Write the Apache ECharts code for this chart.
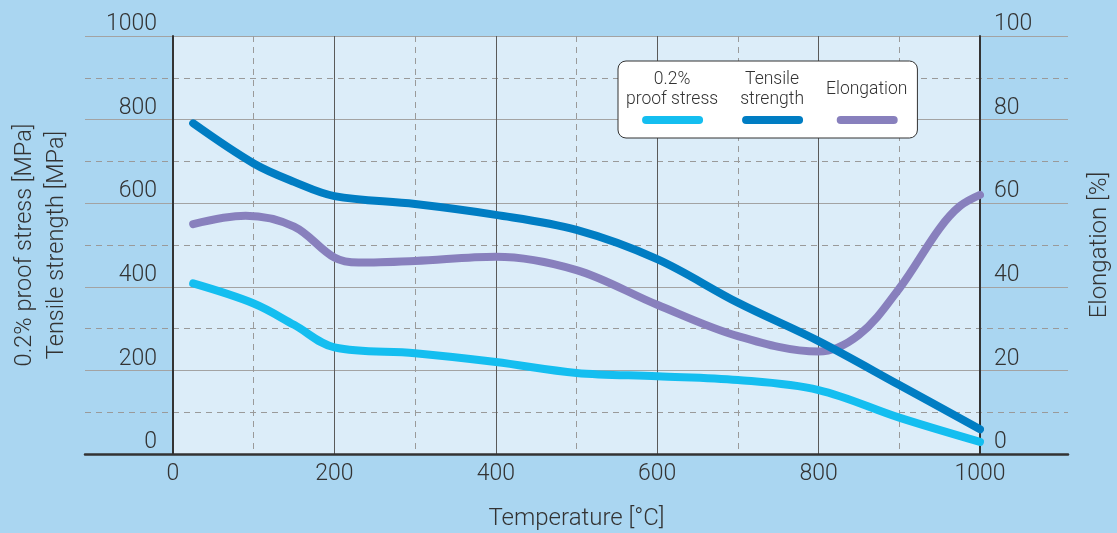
<!DOCTYPE html>
<html>
<head>
<meta charset="utf-8">
<script src="https://cdn.jsdelivr.net/npm/echarts@6/dist/echarts.min.js"></script>
<style>
html,body{margin:0;padding:0;background:#aad6f1;}
#chart{width:1117px;height:533px;}
</style>
</head>
<body>
<div id="chart"></div>
<script>
// ---- data ----
const seriesNames = ['0.2% proof stress', 'Tensile strength', 'Elongation'];
const legendLines = [['0.2%', 'proof stress'], ['Tensile', 'strength'], ['Elongation']];

const proofTemps = [25, 100, 150, 200, 300, 400, 500, 600, 700, 800, 900, 1000];
const proofStress = [408, 360, 309, 255, 241, 220, 194, 186, 177, 153, 87, 29];

const tensileTemps = [25, 100, 150, 200, 300, 400, 500, 600, 700, 800, 900, 1000];
const tensileStrength = [791, 695, 651, 617, 598, 572, 536, 466, 362, 270, 165, 59];

const elongTemps = [25, 90, 150, 200, 230, 300, 400, 500, 600, 700, 800, 850, 900, 950, 975, 1000];
const elongation = [55, 57, 54.4, 47, 45.8, 46.2, 47.2, 44, 35.7, 28.2, 24.5, 28.5, 39.6, 54, 59.3, 62];

const xTicks = [0, 200, 400, 600, 800, 1000];
const leftTicks = [0, 200, 400, 600, 800, 1000];
const rightTicks = [0, 20, 40, 60, 80, 100];

const colors = ['#14bef0', '#007dc3', '#8880bd'];

// ---- helpers ----
const pairs = (xs, ys) => xs.map((x, i) => [x, ys[i]]);
const FONT = 'Roboto';
const TXT = '#333333';
const plain = v => String(v);

const chart = echarts.init(document.getElementById('chart'));
const option = {
  backgroundColor: '#aad6f1',
  animation: false,
  textStyle: { fontFamily: FONT },
  grid: [
    { left: 85, right: 49, top: 36, bottom: 79, show: false, containLabel: false, outerBoundsMode: 'none' },
    { left: 173, right: 137, top: 36, bottom: 79, show: true, backgroundColor: '#dcedf9', borderWidth: 0, containLabel: false, outerBoundsMode: 'none' }
  ],
  xAxis: [
    {
      gridIndex: 0, type: 'value', min: 0, max: 1,
      axisLine: { show: true, lineStyle: { color: '#333', width: 2.5 } },
      axisTick: { show: false }, axisLabel: { show: false }, splitLine: { show: false }
    },
    {
      gridIndex: 1, type: 'value',
      min: xTicks[0], max: xTicks[xTicks.length - 1], interval: xTicks[1] - xTicks[0],
      name: 'Temperature [°C]', nameLocation: 'middle', nameGap: 53,
      nameTextStyle: { fontSize: 24, color: TXT, fontFamily: FONT, fontWeight: 300 },
      axisLine: { show: false }, axisTick: { show: false },
      axisLabel: { color: TXT, fontSize: 23, margin: 9, fontFamily: FONT, fontWeight: 300, formatter: plain },
      splitLine: { show: true, lineStyle: { color: '#5a5a5a', width: 1 } },
      minorTick: { show: false, splitNumber: 2 },
      minorSplitLine: { show: true, lineStyle: { color: '#9a9a9a', width: 1, type: [6, 5] } }
    }
  ],
  yAxis: [
    {
      gridIndex: 0, type: 'value', min: 0, max: 1000, interval: 200,
      axisLine: { show: false }, axisTick: { show: false }, axisLabel: { show: false },
      splitLine: { show: true, lineStyle: { color: '#a3a3a3', width: 1 } },
      minorTick: { show: false, splitNumber: 2 },
      minorSplitLine: { show: true, lineStyle: { color: '#9a9a9a', width: 1, type: [6, 5] } }
    },
    {
      gridIndex: 1, type: 'value', position: 'left',
      min: leftTicks[0], max: leftTicks[leftTicks.length - 1], interval: leftTicks[1] - leftTicks[0],
      name: '0.2% proof stress [MPa]\nTensile strength [MPa]',
      nameLocation: 'middle', nameGap: 100, nameRotate: 90,
      nameTextStyle: { fontSize: 23.5, lineHeight: 32, color: TXT, fontFamily: FONT, fontWeight: 300, align: 'center' },
      axisLine: { show: true, lineStyle: { color: '#333', width: 2 } },
      axisTick: { show: false },
      axisLabel: { color: TXT, fontSize: 23, margin: 16, verticalAlign: 'bottom', fontFamily: FONT, fontWeight: 300, formatter: plain },
      splitLine: { show: false }
    },
    {
      gridIndex: 1, type: 'value', position: 'right',
      min: rightTicks[0], max: rightTicks[rightTicks.length - 1], interval: rightTicks[1] - rightTicks[0],
      name: 'Elongation [%]', nameLocation: 'middle', nameGap: 108, nameRotate: 90,
      nameTextStyle: { fontSize: 24, color: TXT, fontFamily: FONT, fontWeight: 300 },
      axisLine: { show: true, lineStyle: { color: '#333', width: 2 } },
      axisTick: { show: false },
      axisLabel: { color: TXT, fontSize: 23, margin: 14, verticalAlign: 'bottom', fontFamily: FONT, fontWeight: 300, formatter: plain },
      splitLine: { show: false }
    }
  ],
  legend: {
    left: 618, top: 61,
    orient: 'horizontal',
    data: seriesNames,
    selectedMode: false,
    itemWidth: 61, itemHeight: 8, itemGap: 22,
    icon: 'path://M4,0L57,0A4,4,0,0,1,57,8L4,8A4,4,0,0,1,4,0Z',
    itemStyle: { borderWidth: 0 },
    backgroundColor: '#ffffff', borderColor: '#333', borderWidth: 1, borderRadius: 8,
    padding: [10, 10, 14, 8],
    formatter: function (name) {
      const i = seriesNames.indexOf(name);
      return legendLines[i].map(s => '{c|' + s + '}').join('\n');
    },
    textStyle: {
      width: 110,
      padding: [0, 0, 60, -91],
      rich: { c: { align: 'center', fontSize: 17.5, lineHeight: 20, color: TXT, fontFamily: FONT, fontWeight: 300 } }
    }
  },
  series: [
    {
      name: seriesNames[0], type: 'line', xAxisIndex: 1, yAxisIndex: 1,
      data: pairs(proofTemps, proofStress), smooth: 0.35, showSymbol: false, symbol: 'none',
      color: colors[0], lineStyle: { width: 8, cap: 'round', join: 'round', color: colors[0] }, z: 5
    },
    {
      name: seriesNames[1], type: 'line', xAxisIndex: 1, yAxisIndex: 1,
      data: pairs(tensileTemps, tensileStrength), smooth: 0.35, showSymbol: false, symbol: 'none',
      color: colors[1], lineStyle: { width: 8, cap: 'round', join: 'round', color: colors[1] }, z: 5
    },
    {
      name: seriesNames[2], type: 'line', xAxisIndex: 1, yAxisIndex: 2,
      data: pairs(elongTemps, elongation), smooth: 0.35, showSymbol: false, symbol: 'none',
      color: colors[2], lineStyle: { width: 8, cap: 'round', join: 'round', color: colors[2] }, z: 4
    }
  ]
};
chart.setOption(option);
</script>
</body>
</html>
